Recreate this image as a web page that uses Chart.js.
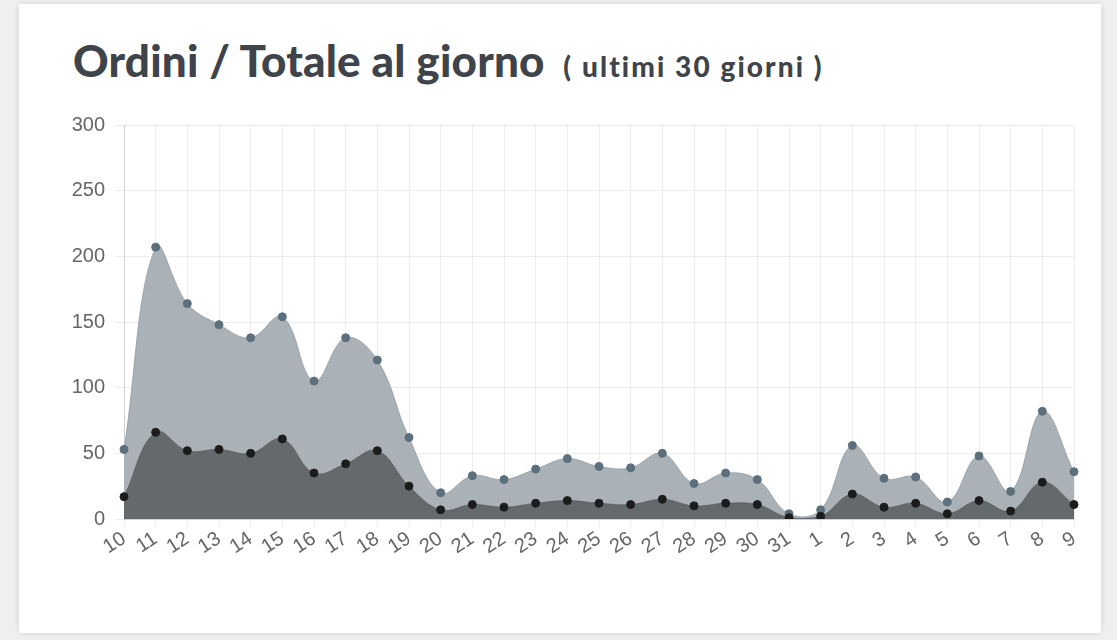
<!DOCTYPE html>
<html>
<head>
<meta charset="utf-8">
<script src="https://cdn.jsdelivr.net/npm/chart.js@4/dist/chart.umd.min.js"></script>
<style>
  html, body { margin: 0; padding: 0; }
  body { width: 1117px; height: 640px; background: #efefef; position: relative; overflow: hidden; }
  .card {
    position: absolute; left: 19px; top: 4px; width: 1082px; height: 629px;
    background: #fff; box-shadow: 0 0 6px rgba(0,0,0,0.12);
  }
  h2 {
    position: absolute; left: 54px; top: 30px; margin: 0;
    font-family: Lato, "Open Sans", sans-serif; font-weight: 900; font-size: 44px;
    color: #3e444a; white-space: nowrap; line-height: 1.2; letter-spacing: 0.2px;
  }
  h2 small { font-size: 28px; font-weight: 900; margin-left: 8px; letter-spacing: 2.1px; }
  .wrap { position: absolute; left: 21px; top: 99px; width: 1054px; height: 465px; }
</style>
</head>
<body>
<div class="card">
  <h2>Ordini / Totale al giorno <small>( ultimi 30 giorni )</small></h2>
  <div class="wrap"><canvas id="ordersChart" width="1054" height="465"></canvas></div>
</div>
<script>
// giorni (ultimi 30)
const days = ["10","11","12","13","14","15","16","17","18","19","20","21","22","23","24","25","26","27","28","29","30","31","1","2","3","4","5","6","7","8","9"];

// totale al giorno
const totale = [53, 207, 164, 148, 138, 154, 105, 138, 121, 62, 20, 33, 30, 38, 46, 40, 39, 50, 27, 35, 30, 4, 7, 56, 31, 32, 13, 48, 21, 82, 36];

// ordini al giorno
const ordini = [17, 66, 52, 53, 50, 61, 35, 42, 52, 25, 7, 11, 9, 12, 14, 12, 11, 15, 10, 12, 11, 1, 2, 19, 9, 12, 4, 14, 6, 28, 11];

const yTicks = [0, 50, 100, 150, 200, 250, 300];

const ctx = document.getElementById("ordersChart").getContext("2d");

new Chart(ctx, {
  type: "line",
  data: {
    labels: days,
    datasets: [
      {
        label: "Ordini",
        data: ordini,
        fill: "origin",
        backgroundColor: "#646a6c",
        borderColor: "rgba(80,84,86,0.6)",
        borderWidth: 1,
        pointRadius: 4,
        pointBackgroundColor: "#1c1c1c",
        pointBorderColor: "#1c1c1c",
        tension: 0.4,
      },
      {
        label: "Totale",
        data: totale,
        fill: "origin",
        backgroundColor: "#aab2b7",
        borderColor: "rgba(140,150,156,0.7)",
        borderWidth: 1,
        pointRadius: 4,
        pointBackgroundColor: "#5b6f7c",
        pointBorderColor: "#5b6f7c",
        tension: 0.4,
      },
    ],
  },
  options: {
    responsive: false,
    animation: false,
    devicePixelRatio: 1,
    layout: { padding: { top: 0, right: 20, bottom: 0, left: 0 } },
    plugins: { legend: { display: false }, tooltip: { enabled: false } },
    scales: {
      x: {
        grid: { color: "rgba(0,0,0,0.07)", tickLength: 8 },
        border: { color: "rgba(0,0,0,0.12)" },
        ticks: {
          color: "#666",
          font: { family: "'Liberation Sans', Arial, sans-serif", size: 20 },
          minRotation: 33,
          maxRotation: 33,
          autoSkip: false,
          padding: 0,
        },
        afterFit: (scale) => { scale.height = 49; },
      },
      y: {
        min: 0,
        max: yTicks[yTicks.length - 1],
        grid: { color: "rgba(0,0,0,0.07)", tickLength: 9 },
        border: { color: "rgba(0,0,0,0.12)" },
        afterBuildTicks: (scale) => { scale.ticks = yTicks.map((v) => ({ value: v })); },
        ticks: {
          color: "#666",
          font: { family: "'Liberation Sans', Arial, sans-serif", size: 20 },
          padding: 10,
        },
        afterFit: (scale) => { scale.width = 84; },
      },
    },
  },
});
</script>
</body>
</html>
